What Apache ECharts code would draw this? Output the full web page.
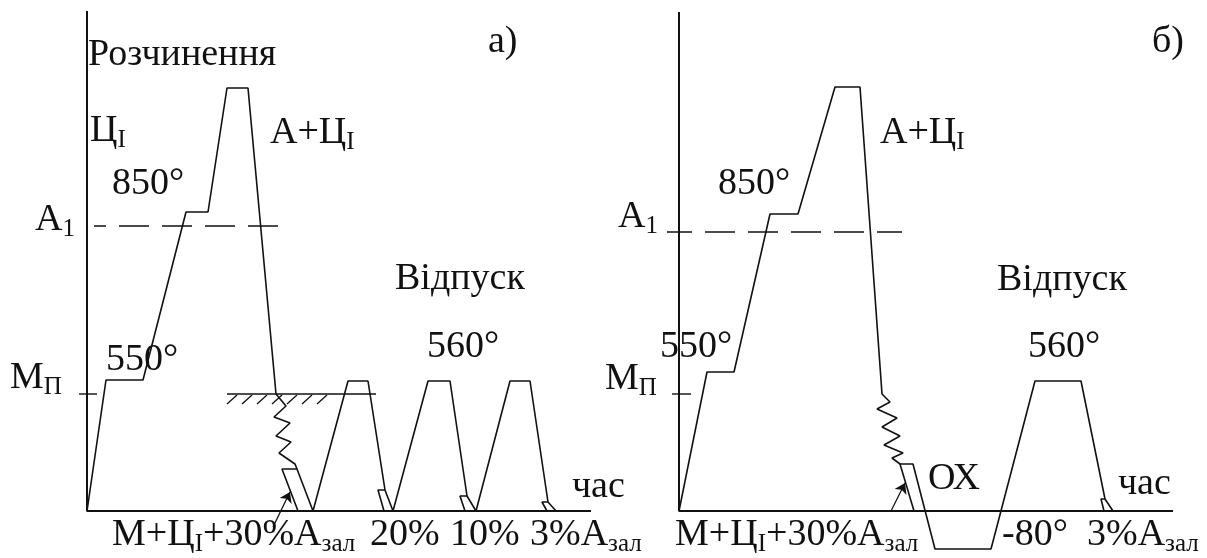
<!DOCTYPE html>
<html><head><meta charset="utf-8">
<script src="https://cdn.jsdelivr.net/npm/echarts@6/dist/echarts.min.js"></script>
<style>html,body{margin:0;padding:0;background:#fff}#c{width:1207px;height:558px}</style>
</head><body><div id="c"></div>
<script>
// ---- schematic values (time units, temperature units) ----
// Panel а)
const aAxes = [[0,100],[0,0],[100.8,0]];
const aProfile = [[0,0],[3.8,26.2],[11.2,26.2],[19.8,59.8],[24.2,59.8],[28,84.6],[32.2,84.6],[37.8,23.4],
  [39.8,21],[37.4,18.8],[40.6,17.6],[37.8,15],[40.8,13.8],[38.4,11.6],[41.6,9.4],[42,8.4],
  [45.2,0],[52.2,26],[56.2,26],[59.6,4.2],[61.2,0],[68.2,26],[72.6,26],[76,3],[77.8,0],
  [84.6,26],[88.6,26],[92.2,1.8],[93.8,0]];
const aLegs = [
  [[42,8.4],[39,8.4],[42.2,0]],
  [[59.6,4.2],[58.2,4.2],[59.4,0]],
  [[76,3],[74.6,3],[75.6,0]],
  [[92.2,1.8],[91,1.8],[92,0]]
];
const aA1 = [[1.4,57],[40.2,57]];
const aMp = [[-1.6,23.4],[2,23.4]];
const aMsLine = [[28,23.4],[57.8,23.4]];
const aHatches = [
  [[28,21.4],[30,23.2]],[[31,21.4],[33,23.2]],[[34,21.4],[36,23.2]],[[37,21.4],[39,23.2]],
  [[40,21.4],[42,23.2]],[[43,21.4],[45,23.2]],[[46,21.4],[48,23.2]]
];
const aArrow = [[37.2,-3.2],[40.6,3.8]];

// Panel б)
const bAxes = [[0,99.8],[0,0],[98.8,0]];
const bProfile = [[0,0],[5.6,27.8],[11,27.8],[18.2,59.4],[23.8,59.4],[31.2,84.8],[36.2,84.8],[40.6,23.4],
  [42.2,21.8],[39.6,20.4],[43.6,18.6],[40.6,16.8],[44.2,15],[41,13.2],[44.8,11.6],[42.6,10.6],[44.2,9.4],
  [46.8,9.4],[51.2,-7.6],[62.4,-7.6],[71.2,26],[80.4,26],[85.2,2.4],[86.8,0]];
const bLegs = [
  [[44.2,9.4],[47,0]],
  [[85.2,2.4],[84.4,2.4],[85,0]]
];
const bA1 = [[-2.4,55.8],[44.6,55.8]];
const bMp = [[-1.4,23.4],[2.4,23.4]];
const bArrow = [[42.4,0],[45.2,5.6]];

// ---- texts (main part, subscript part) ----
const textsA = [
  [['Розчинення']],
  [['а)']],
  [['Ц'],['I','s']],
  [['А+Ц'],['I','s']],
  [['850°']],
  [['А'],['1','s']],
  [['Відпуск']],
  [['550°']],
  [['М'],['П','s']],
  [['560°']],
  [['час']],
  [['М+Ц'],['I','s'],['+30%А'],['зал','s']],
  [['20%']],
  [['10%']],
  [['3%А'],['зал','s']]
];
const textsB = [
  [['б)']],
  [['А+Ц'],['I','s']],
  [['850°']],
  [['А'],['1','s']],
  [['Відпуск']],
  [['550°']],
  [['М'],['П','s']],
  [['560°']],
  [['ОХ']],
  [['час']],
  [['М+Ц'],['I','s'],['+30%А'],['зал','s']],
  [['-80°']],
  [['3%А'],['зал','s']]
];
// layout: left x, baseline y (pixels)
const layoutA = [[88,68],[488,55],[90,144],[270,146],[112,197],[35,233],[395,292],[106,373],[10,391],[427,360],[572,500],[112,548],[370,548],[450,548],[530,548]];
const layoutB = [[1152,55],[880,146],[718,197],[618,230],[997,293],[660,360],[605,392],[1028,360],[928,492],[1118,497],[675,548],[1002,548],[1087,548]];

const FONT = "'Liberation Serif','Times New Roman',serif";
const MAIN = 38, SUB = 25, LH = 44;
const INK = '#111';

function ln(g, pts, w, ls) {
  return {type:'line', xAxisIndex:g, yAxisIndex:g, data:pts, showSymbol:false, symbol:'none', clip:false,
    silent:true, animation:false, lineStyle:Object.assign({color:INK, width:w}, ls||{})};
}
function segs(g, list, arrow) {
  return {type:'lines', coordinateSystem:'cartesian2d', xAxisIndex:g, yAxisIndex:g, silent:true, animation:false,
    data:list.map(s => ({coords:s})), symbol: arrow ? ['none','arrow'] : 'none', symbolSize: arrow ? [6,10] : 0,
    lineStyle:{color:INK, width:1.3, opacity:1, curveness:0}};
}
function txt(parts, pos) {
  const s = parts.map(p => '{' + (p[1] || 'm') + '|' + p[0] + '}').join('');
  return {type:'text', x:pos[0], y:pos[1] - 35, silent:true, z:10,
    style:{text:s, align:'left', verticalAlign:'top', fill:INK,
      rich:{
        m:{fontSize:MAIN, fontFamily:FONT, lineHeight:LH, fill:INK},
        s:{fontSize:SUB, fontFamily:FONT, lineHeight:LH, height:SUB, verticalAlign:'bottom', fill:INK}
      }}};
}

const series = [
  ln(0, aAxes, 2), ln(0, aProfile, 1.6),
  ...aLegs.map(l => ln(0, l, 1.6)),
  ln(0, aA1, 1.4, {type:[30,13], dashOffset:18}),
  ln(0, aMp, 1.4), ln(0, aMsLine, 1.6),
  segs(0, aHatches, false), segs(0, [aArrow], true),
  ln(1, bAxes, 2), ln(1, bProfile, 1.6),
  ...bLegs.map(l => ln(1, l, 1.6)),
  ln(1, bA1, 1.4, {type:[30,13], dashOffset:5}),
  ln(1, bMp, 1.4),
  segs(1, [bArrow], true)
];

const chart = echarts.init(document.getElementById('c'), null, {renderer:'canvas'});
chart.setOption({
  backgroundColor:'#fff',
  animation:false,
  grid:[{left:67, top:11, width:525, height:545}, {left:659, top:11, width:515, height:545}],
  xAxis:[{gridIndex:0, type:'value', min:-4, max:101, show:false}, {gridIndex:1, type:'value', min:-4, max:99, show:false}],
  yAxis:[{gridIndex:0, type:'value', min:-9, max:100, show:false}, {gridIndex:1, type:'value', min:-9, max:100, show:false}],
  series: series,
  graphic: [...textsA.map((t,i) => txt(t, layoutA[i])), ...textsB.map((t,i) => txt(t, layoutB[i]))]
});
</script></body></html>
